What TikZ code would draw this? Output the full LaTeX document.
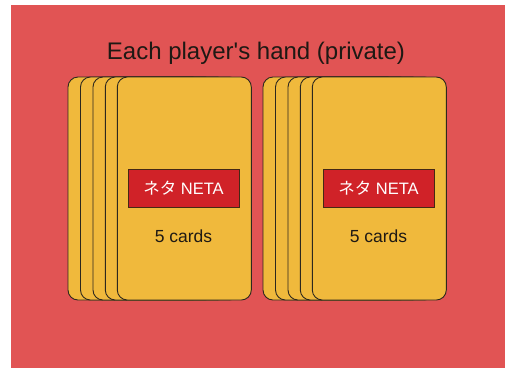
\documentclass[tikz,border=0pt]{standalone}
\usepackage{fontspec}
\setmainfont{Liberation Sans}
\newfontfamily\jpfont{Noto Sans CJK JP}
\definecolor{bgred}{RGB}{225,84,84}
\definecolor{cardfill}{RGB}{240,185,60}
\definecolor{cardedge}{RGB}{45,40,30}
\definecolor{labred}{RGB}{208,34,40}
\definecolor{labedge}{RGB}{70,40,20}
\definecolor{txt}{RGB}{30,25,20}
\tikzset{
  card/.style={draw=cardedge, fill=cardfill, line width=0.9pt, rounded corners=10pt,
    minimum width=134pt, minimum height=223pt, inner sep=0pt},
  netabox/.style={draw=labedge, fill=labred, line width=0.8pt, text=white,
    minimum width=111pt, minimum height=38.5pt, inner sep=0pt, font=\fontsize{16.5}{19}\selectfont},
  counttxt/.style={text=txt, font=\fontsize{17.5}{20}\selectfont, inner sep=0pt},
  titletxt/.style={text=txt, font=\fontsize{24}{28}\selectfont, inner sep=0pt}
}
\begin{document}
\begin{tikzpicture}[x=1pt,y=-1pt]
\useasboundingbox (0,0) rectangle (505,368);
\fill[bgred] (11,5) rectangle (505,368);
\node[titletxt] (title) at (256,53) {Each player\textquotesingle s hand (private)};
% left hand
\node[card] (la) at (135,188.5) {};
\node[card] (lb) at (147.5,188.5) {};
\node[card] (lc) at (160,188.5) {};
\node[card] (ld) at (172.3,188.5) {};
\node[card] (le) at (184.3,188.5) {};
\node[netabox] (ln) at (183.5,188.5) {{\jpfont ネタ} NETA};
\node[counttxt] (lt) at (183.5,236) {5 cards};
% right hand
\node[card] (ra) at (330,188.5) {};
\node[card] (rb) at (342.5,188.5) {};
\node[card] (rc) at (355,188.5) {};
\node[card] (rd) at (367.3,188.5) {};
\node[card] (re) at (379.3,188.5) {};
\node[netabox] (rn) at (378.5,188.5) {{\jpfont ネタ} NETA};
\node[counttxt] (rt) at (378.5,236) {5 cards};
\end{tikzpicture}
\end{document}
